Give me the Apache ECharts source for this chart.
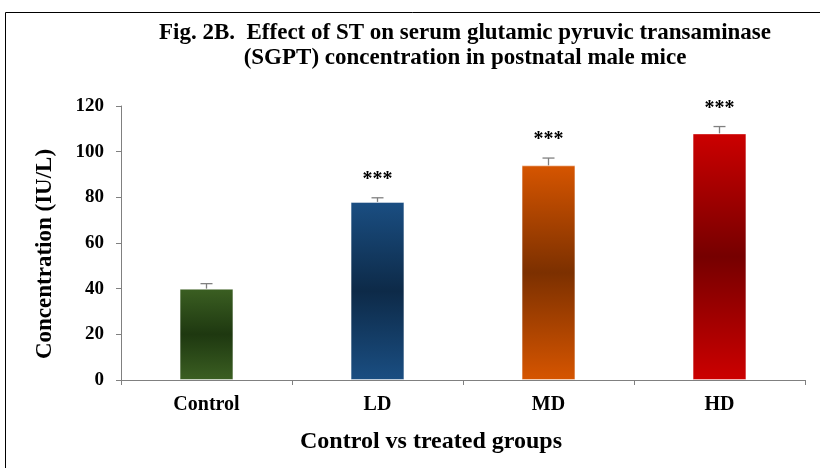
<!DOCTYPE html>
<html><head><meta charset="utf-8">
<script src="https://cdn.jsdelivr.net/npm/echarts@6/dist/echarts.min.js"></script>
<style>html,body{margin:0;padding:0;background:#fff}#c{width:820px;height:468px}</style>
</head><body><div id="c"></div>
<script>
const categories = ['Control', 'LD', 'MD', 'HD'];
const means = [40, 78, 94, 108];
const errors = [2.2, 1.8, 3.2, 3];
const significance = ['', '***', '***', '***'];
const yTicks = [0, 20, 40, 60, 80, 100, 120];

const palette = [
  ['#3b5f22', '#1e3810'],
  ['#1a4e82', '#0d2a48'],
  ['#d65500', '#7c3000'],
  ['#cc0000', '#760000']
];
const FONT = '"Liberation Serif", "Times New Roman", serif';

const chart = echarts.init(document.getElementById('c'), null, {renderer: 'canvas'});
const barData = means.map((v, i) => ({
  value: v,
  itemStyle: {
    color: new echarts.graphic.LinearGradient(0, 0, 0, 1, [
      {offset: 0, color: palette[i][0]},
      {offset: 0.5, color: palette[i][1]},
      {offset: 1, color: palette[i][0]}
    ]),
    borderColor: 'rgba(255,255,255,0.45)',
    borderWidth: 1
  }
}));
const errData = means.map((v, i) => [i, v, errors[i], significance[i]]);

chart.setOption({
  animation: false,
  backgroundColor: '#fff',
  title: {
    text: 'Fig. 2B.  Effect of ST on serum glutamic pyruvic transaminase\n(SGPT) concentration in postnatal male mice',
    left: 460, top: 16, textAlign: 'center',
    textStyle: {fontFamily: FONT, fontWeight: 'bold', fontSize: 23, color: '#000', lineHeight: 25}
  },
  grid: {left: 121, right: 15, top: 106, bottom: 88, containLabel: false},
  xAxis: {
    type: 'category', data: categories,
    axisLine: {lineStyle: {color: '#808080', width: 1}},
    axisTick: {show: true, length: 5, lineStyle: {color: '#808080'}},
    axisLabel: {fontFamily: FONT, fontWeight: 'bold', fontSize: 20, color: '#000', margin: 15}
  },
  yAxis: {
    type: 'value', min: 0, max: 120, interval: 20,
    axisLine: {show: true, lineStyle: {color: '#808080', width: 1}},
    axisTick: {show: true, length: 5, lineStyle: {color: '#808080'}},
    splitLine: {show: false},
    axisLabel: {fontFamily: FONT, fontWeight: 'bold', fontSize: 19, color: '#000', margin: 17,
      formatter: v => yTicks.includes(v) ? String(v) : ''}
  },
  graphic: [
    {type: 'polyline', shape: {points: [[5.5, 468], [5.5, 12.5], [820, 12.5]]},
     style: {stroke: '#000', lineWidth: 1, fill: null}},
    {type: 'text', x: 45, y: 254, rotation: Math.PI / 2,
     style: {text: 'Concentration (IU/L)', font: 'bold 23px ' + FONT, fill: '#000',
       align: 'center', verticalAlign: 'middle'}},
    {type: 'text', left: 300, top: 430,
     style: {text: 'Control vs treated groups', font: 'bold 24px ' + FONT, fill: '#000'}}
  ],
  series: [
    {type: 'bar', data: barData, barWidth: '31.5%'},
    {
      type: 'custom', data: errData, z: 5,
      renderItem: function (params, api) {
        const i = api.value(0), m = api.value(1), e = api.value(2);
        const sig = errData[params.dataIndex][3];
        const top = api.coord([i, m + e]);
        const base = api.coord([i, m]);
        const hw = 6;
        return {
          type: 'group',
          children: [
            {type: 'line', shape: {x1: top[0], y1: top[1], x2: base[0], y2: base[1]},
             style: {stroke: '#808080', lineWidth: 1.3}},
            {type: 'line', shape: {x1: top[0] - hw, y1: top[1], x2: top[0] + hw, y2: top[1]},
             style: {stroke: '#808080', lineWidth: 1.3}},
            {type: 'text', style: {text: sig, x: top[0], y: top[1] - 8, textAlign: 'center',
              textVerticalAlign: 'bottom', font: 'bold 20px ' + FONT, fill: '#000'}}
          ]
        };
      }
    }
  ]
});
</script></body></html>
